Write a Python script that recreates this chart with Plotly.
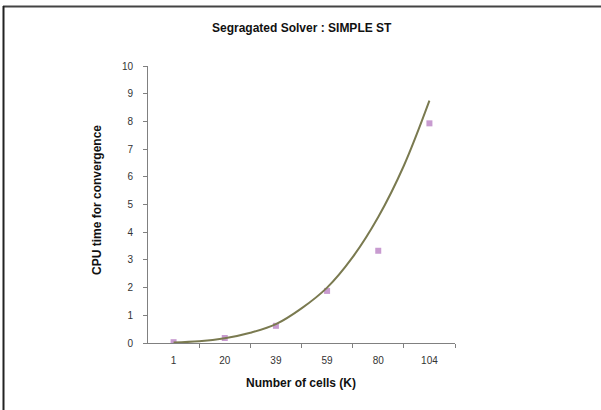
import plotly.graph_objects as go

categories = ["1", "20", "39", "59", "80", "104"]
cpu_time = [0.03, 0.18, 0.62, 1.88, 3.33, 7.93]
# trendline (category index positions)
trend_x = [1, 1.5, 2, 2.5, 3, 3.5, 4, 4.5, 5, 5.5, 6]
trend_y = [0.02, 0.06, 0.17, 0.37, 0.68, 1.25, 2.0, 3.1, 4.55, 6.4, 8.75]
y_ticks = list(range(0, 11))

idx = list(range(1, len(categories) + 1))

fig = go.Figure()
fig.add_trace(go.Scatter(
    x=idx, y=cpu_time, mode="markers",
    marker=dict(symbol="square", size=6, color="#c89bd0",
                line=dict(width=0)),
    showlegend=False, hoverinfo="skip"))
fig.add_trace(go.Scatter(
    x=trend_x, y=trend_y, mode="lines", line_shape="spline",
    line=dict(color="#7a7a50", width=2),
    showlegend=False, hoverinfo="skip"))

W, H = 601, 410
L, R, T, B = 148, 146, 66, 67
pw, ph = W - L - R, H - T - B

def px(x):
    return (x - L) / pw

def py(y):
    return 1 - (y - T) / ph

font = "Liberation Sans, Arial, sans-serif"

fig.update_layout(
    width=W, height=H,
    margin=dict(l=L, r=R, t=T, b=B),
    paper_bgcolor="white", plot_bgcolor="white",
    font=dict(family=font, size=10, color="#333333"),
    xaxis=dict(
        range=[0.5, 6.5], tickvals=idx, ticktext=categories,
        showgrid=False, zeroline=False, showline=True,
        linecolor="#808080", linewidth=1, ticks="",
        minor=dict(tickvals=[1.5, 2.5, 3.5, 4.5, 5.5, 6.5], ticks="outside",
                   ticklen=4, tickcolor="#808080", showgrid=False),
        tickfont=dict(size=10, color="#333333"),
        ticklabelstandoff=8,
        fixedrange=True,
    ),
    yaxis=dict(
        range=[0, 10], tickvals=y_ticks,
        showgrid=False, zeroline=False, showline=True,
        linecolor="#808080", linewidth=1, ticks="outside",
        ticklen=4, tickcolor="#808080",
        tickfont=dict(size=10, color="#333333"),
        ticklabelstandoff=8,
        fixedrange=True,
    ),
    annotations=[
        dict(text="<b>Segragated Solver : SIMPLE ST</b>", xref="paper", yref="paper",
             x=px(302), y=py(28), xanchor="center", yanchor="middle", showarrow=False,
             font=dict(size=12, color="#111111", family=font)),
        dict(text="<b>Number of cells (K)</b>", xref="paper", yref="paper",
             x=px(301), y=py(383), xanchor="center", yanchor="middle", showarrow=False,
             font=dict(size=12, color="#111111", family=font)),
        dict(text="<b>CPU time for convergence</b>", xref="paper", yref="paper",
             x=px(97), y=py(200), xanchor="center", yanchor="middle", showarrow=False,
             textangle=-90,
             font=dict(size=12, color="#111111", family=font)),
    ],
    shapes=[
        dict(type="line", xref="paper", yref="paper",
             x0=px(3), x1=px(601), y0=py(6.5), y1=py(6.5),
             line=dict(color="#444444", width=2)),
        dict(type="line", xref="paper", yref="paper",
             x0=px(3.5), x1=px(3.5), y0=py(6), y1=py(410),
             line=dict(color="#222222", width=2)),
    ],
)

fig.write_html("out.html")
